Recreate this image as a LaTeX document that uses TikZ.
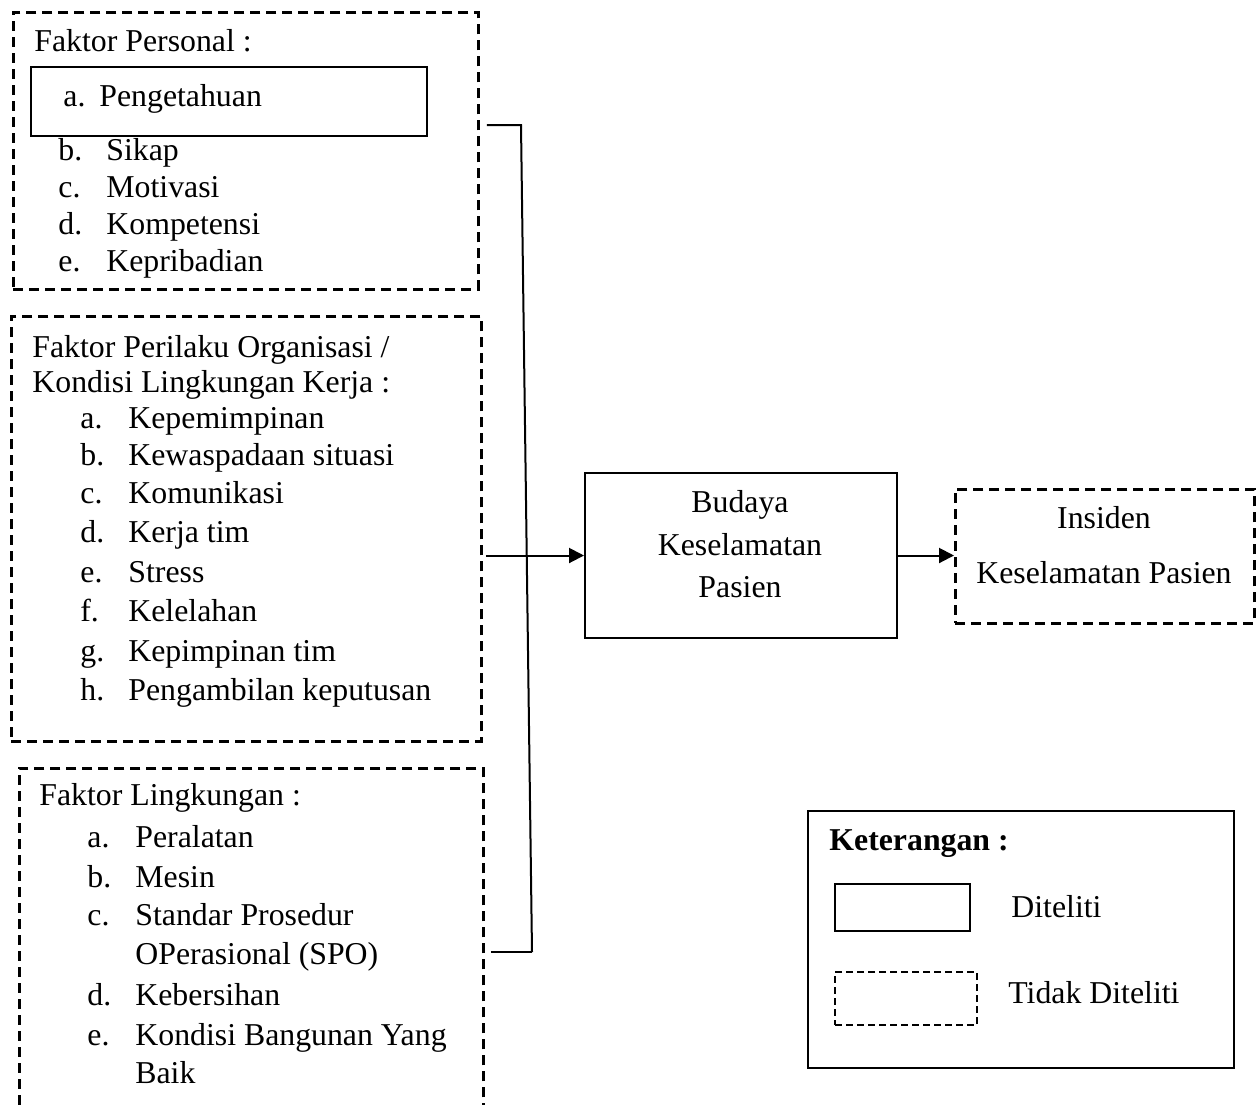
\documentclass[tikz,border=0pt]{standalone}
\usepackage{fontspec}
\setmainfont{Liberation Serif}
\usetikzlibrary{arrows.meta}

\tikzset{
  dbox/.style={draw, line width=1.4pt, dash pattern=on 5pt off 3pt, inner sep=0pt, anchor=north west},
  sbox/.style={draw, line width=1pt, inner sep=0pt, anchor=north west},
  txt/.style={anchor=base west, inner sep=0pt},
  ctxt/.style={anchor=base, inner sep=0pt},
  conn/.style={line width=1pt},
  arr/.style={line width=1pt, -{Triangle[length=7.5pt,width=7.5pt]}}
}

\begin{document}
\begin{tikzpicture}[x=0.5pt, y=-0.5pt, font=\fontsize{15.9pt}{19pt}\selectfont]
\useasboundingbox (0,0) rectangle (1257,1104);

% boxes
\node [dbox, minimum width=232.5pt, minimum height=138.5pt] (box1) at (12,11) {};
\node [sbox, minimum width=198pt, minimum height=34.5pt] (box1a) at (30,66) {};
\node [dbox, minimum width=235pt, minimum height=212.5pt] (box2) at (10,315) {};
\node [dbox, minimum width=232pt, minimum height=172.5pt] (box3) at (18,767) {};
\node [sbox, minimum width=156pt, minimum height=82.5pt] (budaya) at (584,472) {};
\node [dbox, minimum width=149.5pt, minimum height=67pt] (insiden) at (954,488) {};
\node [sbox, minimum width=213pt, minimum height=128.5pt] (legend) at (807,810) {};
\node [sbox, minimum width=67.5pt, minimum height=23.5pt] (legsolid) at (834,883) {};
\node [dbox, line width=1pt, dash pattern=on 3.5pt off 2pt, minimum width=71pt, minimum height=26.5pt] (legdash) at (834,971) {};

% faktor personal
\node [txt] (h1) at (34,51) {Faktor Personal :};
\node [txt] (l1a) at (63,106) {a.};
\node [txt] (i1a) at (99,106) {Pengetahuan};
\node [txt] (l1b) at (58,160) {b.};
\node [txt] (i1b) at (106,160) {Sikap};
\node [txt] (l1c) at (58,197) {c.};
\node [txt] (i1c) at (106,197) {Motivasi};
\node [txt] (l1d) at (58,234) {d.};
\node [txt] (i1d) at (106,234) {Kompetensi};
\node [txt] (l1e) at (58,271) {e.};
\node [txt] (i1e) at (106,271) {Kepribadian};

% faktor perilaku organisasi
\node [txt] (h2) at (32,357) {Faktor Perilaku Organisasi /};
\node [txt] (h2b) at (32,392) {Kondisi Lingkungan Kerja :};
\node [txt] (l2a) at (80,428) {a.};
\node [txt] (i2a) at (128,428) {Kepemimpinan};
\node [txt] (l2b) at (80,465) {b.};
\node [txt] (i2b) at (128,465) {Kewaspadaan situasi};
\node [txt] (l2c) at (80,503) {c.};
\node [txt] (i2c) at (128,503) {Komunikasi};
\node [txt] (l2d) at (80,542) {d.};
\node [txt] (i2d) at (128,542) {Kerja tim};
\node [txt] (l2e) at (80,582) {e.};
\node [txt] (i2e) at (128,582) {Stress};
\node [txt] (l2f) at (80,621) {f.};
\node [txt] (i2f) at (128,621) {Kelelahan};
\node [txt] (l2g) at (80,661) {g.};
\node [txt] (i2g) at (128,661) {Kepimpinan tim};
\node [txt] (l2h) at (80,700) {h.};
\node [txt] (i2h) at (128,700) {Pengambilan keputusan};

% faktor lingkungan
\node [txt] (h3) at (39,805) {Faktor Lingkungan :};
\node [txt] (l3a) at (87,847) {a.};
\node [txt] (i3a) at (135,847) {Peralatan};
\node [txt] (l3b) at (87,887) {b.};
\node [txt] (i3b) at (135,887) {Mesin};
\node [txt] (l3c) at (87,925) {c.};
\node [txt] (i3c) at (135,925) {Standar Prosedur};
\node [txt] (i3c2) at (135,964) {OPerasional (SPO)};
\node [txt] (l3d) at (87,1005) {d.};
\node [txt] (i3d) at (135,1005) {Kebersihan};
\node [txt] (l3e) at (87,1045) {e.};
\node [txt] (i3e) at (135,1045) {Kondisi Bangunan Yang};
\node [txt] (i3e2) at (135,1083) {Baik};

% budaya & insiden
\node [ctxt] (b1) at (740,512) {Budaya};
\node [ctxt] (b2) at (740,555) {Keselamatan};
\node [ctxt] (b3) at (740,597) {Pasien};
\node [ctxt] (in1) at (1104,528) {Insiden};
\node [ctxt] (in2) at (1104,583) {Keselamatan Pasien};

% keterangan
\node [txt] (kt) at (829,850) {\textbf{Keterangan :}};
\node [txt] (kt1) at (1011,917) {Diteliti};
\node [txt] (kt2) at (1008,1003) {Tidak Diteliti};

% connectors
\coordinate (j1) at (521,125);
\coordinate (j3) at (532,952);
\draw [conn] ([xshift=3.5pt]box1.east |- j1) -- (j1) -- (j3);
\draw [conn] ([xshift=3pt]box3.east |- j3) -- (j3);
\draw [arr] ([xshift=1.5pt]box2.east |- budaya.west) -- (budaya.west);
\draw [arr] (budaya.east) -- (insiden.west |- budaya.east);
\end{tikzpicture}
\end{document}
